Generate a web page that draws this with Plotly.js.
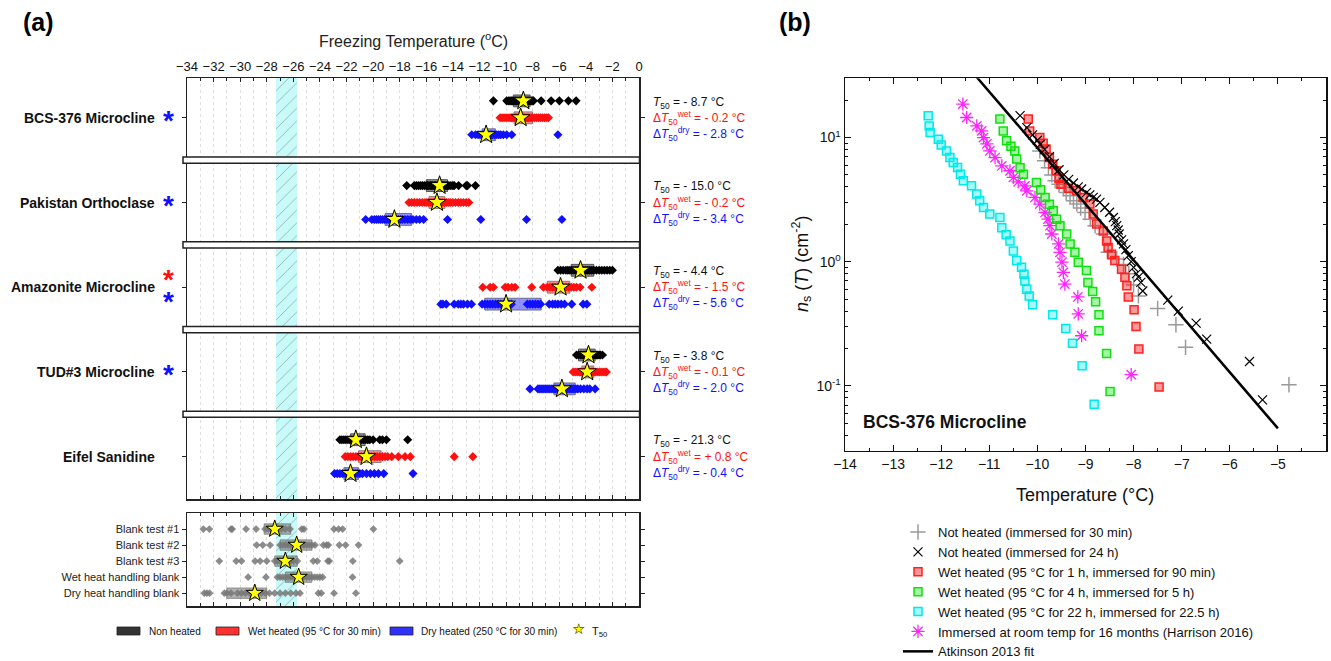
<!DOCTYPE html>
<html><head><meta charset="utf-8">
<script src="https://cdn.plot.ly/plotly-3.0.1.min.js"></script>
<style>html,body{margin:0;padding:0;background:#fff}#chart{width:1331px;height:661px}</style>
</head><body><div id="chart"></div>
<script>
// ================= Panel (a) data =================
const samples = ['BCS-376 Microcline','Pakistan Orthoclase','Amazonite Microcline','TUD#3 Microcline','Eifel Sanidine'];
const t50NonHeated = [-8.7, -15.0, -4.4, -3.8, -21.3];
const dT50Wet = [-0.2, -0.2, -1.5, -0.1, 0.8];
const dT50Dry = [-2.8, -3.4, -5.6, -2.0, -0.4];
const significantWet = [false, false, true, false, false];
const significantDry = [true, true, true, true, false];

const nonHeatedPts = [
  [-10.95,-9.95,-9.8,-9.7,-9.6,-9.5,-9.4,-9.3,-9.2,-9.1,-9.0,-8.9,-8.8,-8.7,-8.6,-8.5,-8.4,-8.3,-8.2,-8.1,-8.0,-7.94,-7.36,-6.61,-5.99,-5.31,-4.73],
  [-17.47,-16.9,-16.75,-16.6,-16.45,-16.3,-16.15,-16.0,-15.9,-15.8,-15.7,-15.6,-15.5,-15.4,-15.3,-15.2,-15.1,-15.0,-14.9,-14.8,-14.7,-14.6,-14.5,-14.4,-14.3,-14.15,-14.0,-13.9,-13.57,-13.0,-12.9,-12.3],
  [-6.1,-5.9,-5.7,-5.5,-5.35,-5.2,-5.05,-4.9,-4.75,-4.6,-4.45,-4.3,-4.15,-4.0,-3.85,-3.7,-3.55,-3.4,-3.2,-3.0,-2.8,-2.6,-2.4,-2.2,-2.0],
  [-4.7,-4.55,-4.4,-4.3,-4.2,-4.1,-4.0,-3.9,-3.8,-3.7,-3.6,-3.5,-3.4,-3.3,-3.2,-3.1,-3.0,-2.9,-2.75],
  [-22.5,-22.35,-22.2,-22.05,-21.9,-21.75,-21.6,-21.45,-21.3,-21.15,-21.0,-20.85,-20.7,-20.55,-20.4,-20.25,-20.0,-19.5,-19.3,-19.0,-17.4]
];
const wetHeatedPts = [
  [-10.45,-10.3,-10.15,-10.0,-9.85,-9.7,-9.6,-9.5,-9.4,-9.3,-9.2,-9.1,-9.0,-8.9,-8.8,-8.7,-8.6,-8.5,-8.4,-8.3,-8.2,-8.1,-8.0,-7.85,-7.7,-7.55,-7.4,-7.25,-7.1,-6.95,-6.81],
  [-17.3,-17.1,-16.9,-16.7,-16.5,-16.3,-16.1,-15.95,-15.8,-15.65,-15.5,-15.4,-15.3,-15.2,-15.1,-15.0,-14.9,-14.8,-14.65,-14.5,-14.35,-14.2,-14.0,-13.8,-13.6,-13.4,-13.2,-13.0,-12.8],
  [-11.75,-11.2,-10.95,-10.07,-9.85,-9.57,-9.32,-8.07,-7.19,-6.9,-6.69,-6.5,-6.3,-6.1,-5.9,-5.7,-5.5,-5.3,-5.1,-4.9,-4.7,-4.43,-3.55],
  [-4.95,-4.8,-4.65,-4.5,-4.4,-4.3,-4.2,-4.1,-4.0,-3.9,-3.8,-3.7,-3.6,-3.5,-3.4,-3.3,-3.15,-3.0,-2.85,-2.7,-2.55,-2.45],
  [-22.1,-21.9,-21.7,-21.5,-21.3,-21.1,-20.9,-20.7,-20.5,-20.3,-20.1,-19.9,-19.7,-19.5,-19.3,-19.1,-18.9,-18.6,-18.1,-17.6,-17.2,-13.9,-12.5]
];
const dryHeatedPts = [
  [-12.58,-12.3,-12.1,-11.95,-11.8,-11.7,-11.6,-11.5,-11.4,-11.3,-11.2,-11.1,-11.0,-10.85,-10.7,-10.55,-10.4,-10.2,-9.95,-9.57,-6.1],
  [-20.56,-20.1,-19.9,-19.75,-19.6,-19.45,-19.3,-19.15,-19.0,-18.85,-18.7,-18.55,-18.4,-18.25,-18.1,-17.95,-17.8,-17.6,-17.4,-17.2,-17.0,-16.75,-16.5,-16.2,-14.4,-11.9,-8.46,-5.8],
  [-14.9,-14.75,-14.5,-13.9,-13.6,-13.4,-13.2,-12.9,-12.6,-11.8,-11.6,-11.4,-11.2,-11.0,-10.8,-10.6,-10.4,-10.2,-10.0,-9.8,-9.6,-8.4,-8.2,-8.0,-7.8,-7.6,-7.4,-6.75,-6.5,-6.3,-6.1,-5.85,-5.6,-5.06,-4.2,-3.92],
  [-8.2,-7.6,-7.45,-7.3,-7.15,-7.0,-6.85,-6.7,-6.55,-6.4,-6.25,-6.1,-5.95,-5.8,-5.65,-5.5,-5.35,-5.2,-5.05,-4.9,-4.75,-4.6,-4.4,-4.15,-3.9,-3.7,-3.3],
  [-22.9,-22.7,-22.5,-22.3,-22.1,-21.95,-21.8,-21.65,-21.5,-21.35,-21.2,-21.0,-20.8,-20.5,-20.2,-19.9,-19.6,-19.2,-17.0]
];
const nonHeatedIQR = [[-9.45,-8.19],[-16.0,-14.4],[-5.1,-3.4],[-4.55,-3.3],[-21.7,-20.6]];
const wetHeatedIQR = [[-9.4,-8.0],[-15.8,-14.6],[-6.9,-5.2],[-4.3,-3.4],[-21.1,-19.4]];
const dryHeatedIQR = [[-11.8,-10.8],[-19.1,-17.1],[-11.6,-7.36],[-6.4,-4.8],[-22.2,-21.1]];

const blankTests = ['Blank test #1','Blank test #2','Blank test #3','Wet heat handling blank','Dry heat handling blank'];
const blankPts = [
  [-32.77,-32.32,-30.69,-30.6,-29.56,-28.8,-28.13,-27.9,-27.7,-27.5,-27.3,-27.1,-26.9,-26.6,-26.25,-25.37,-25.2,-22.94,-22.6,-22.29,-19.98],
  [-28.76,-28.3,-27.75,-27.0,-26.8,-26.6,-26.4,-26.2,-26.0,-25.8,-25.6,-25.4,-25.2,-25.0,-24.8,-24.6,-24.37,-23.74,-23.5,-23.37,-22.54,-22.07,-21.1],
  [-31.57,-30.3,-29.9,-28.88,-28.5,-28.0,-27.4,-27.2,-27.0,-26.8,-26.6,-26.4,-26.2,-26.0,-25.7,-24.5,-24.2,-23.4,-23.3,-21.53,-18.0],
  [-29.4,-28.06,-27.2,-27.0,-26.8,-26.6,-26.4,-26.2,-26.0,-25.8,-25.6,-25.4,-25.2,-25.0,-24.8,-24.6,-24.4,-24.2,-24.0,-23.8,-21.55],
  [-32.7,-32.5,-32.3,-31.19,-31.0,-30.69,-30.2,-29.9,-29.6,-29.3,-29.0,-28.7,-28.4,-28.1,-27.8,-27.4,-27.0,-26.6,-26.2,-25.8,-25.5,-24.12,-23.9,-22.94,-21.3]
];
const blankIQR = [[-28.2,-26.2],[-27.0,-24.6],[-27.4,-25.7],[-26.6,-24.6],[-31.0,-28.0]];
const blankT50 = [-27.4, -25.75, -26.6, -25.6, -28.9];
const blankBand = [-27.3, -25.7];

// ================= Panel (b) data =================
const notHeated30T  = [-9.95,-9.85,-9.77,-9.7,-9.63,-9.55,-9.46,-9.4,-9.32,-9.25,-9.18,-9.1,-9.01,-8.9,-8.8,-8.63,-8.53,-8.35,-8.21,-8.1,-8.0,-7.9,-7.5,-7.12,-6.92,-4.77];
const notHeated30Ns = [7.8,6.5,5.7,5.0,4.48,4.2,3.96,3.6,3.39,3.1,2.91,2.7,2.49,2.2,1.95,1.67,1.19,1.05,0.95,0.8,0.65,0.53,0.42,0.31,0.204,0.102];
const notHeated24T  = [-10.36,-10.22,-10.1,-10.0,-9.94,-9.85,-9.75,-9.65,-9.55,-9.45,-9.35,-9.25,-9.15,-9.08,-8.98,-8.91,-8.84,-8.77,-8.7,-8.6,-8.5,-8.42,-8.38,-8.35,-8.32,-8.3,-8.25,-8.21,-8.16,-8.11,-8.05,-8.0,-7.94,-7.9,-7.85,-7.81,-7.29,-7.07,-6.7,-6.48,-5.59,-5.32];
const notHeated24Ns = [15.0,12.0,10.5,9.5,8.8,8.0,7.0,6.2,5.5,5.0,4.6,4.3,4.0,3.85,3.6,3.45,3.3,3.19,3.0,2.73,2.5,2.27,2.1,1.95,1.8,1.67,1.5,1.39,1.25,1.12,1.0,0.9,0.8,0.75,0.68,0.58,0.49,0.40,0.32,0.238,0.157,0.077];
const wet1hT  = [-10.19,-10.16,-9.95,-9.88,-9.82,-9.75,-9.68,-9.61,-9.55,-9.51,-9.35,-9.19,-9.05,-8.91,-8.84,-8.77,-8.63,-8.56,-8.53,-8.46,-8.39,-8.25,-8.18,-8.14,-8.11,-7.99,-7.95,-7.89,-7.47];
const wet1hNs = [14.1,11.3,10.0,9.0,8.1,6.9,6.1,5.4,4.7,4.2,3.9,3.72,3.29,2.91,2.42,2.01,1.77,1.47,1.3,1.15,1.02,0.87,0.75,0.64,0.52,0.41,0.30,0.198,0.098];
const wet4hT  = [-10.78,-10.71,-10.64,-10.55,-10.47,-10.43,-10.36,-10.29,-10.02,-9.93,-9.84,-9.75,-9.67,-9.6,-9.53,-9.39,-9.32,-9.22,-9.15,-8.98,-8.95,-8.85,-8.79,-8.72,-8.72,-8.56,-8.49];
const wet4hNs = [14.1,11.3,9.4,8.5,7.8,6.7,5.7,5.07,4.35,3.8,3.29,2.9,2.57,2.2,1.95,1.67,1.39,1.19,0.99,0.85,0.68,0.575,0.475,0.373,0.278,0.182,0.09];
const wet22hT  = [-12.27,-12.25,-12.23,-12.06,-12.0,-11.89,-11.82,-11.75,-11.66,-11.6,-11.54,-11.37,-11.26,-11.2,-11.12,-10.99,-10.78,-10.74,-10.65,-10.57,-10.5,-10.43,-10.33,-10.28,-10.26,-10.22,-10.17,-10.1,-9.68,-9.41,-9.27,-9.07,-8.82];
const wet22hNs = [15.0,12.4,11.0,9.7,8.7,7.8,6.9,6.3,5.73,5.07,4.48,4.08,3.5,3.1,2.73,2.42,2.27,1.88,1.65,1.47,1.22,1.02,0.9,0.79,0.70,0.60,0.53,0.45,0.373,0.29,0.22,0.145,0.071];
const harrisonT  = [-11.55,-11.47,-11.26,-11.16,-11.12,-11.05,-10.99,-10.88,-10.74,-10.57,-10.5,-10.4,-10.26,-10.22,-10.05,-9.95,-9.84,-9.78,-9.74,-9.7,-9.56,-9.53,-9.49,-9.46,-9.43,-9.16,-9.15,-9.08,-8.05];
const harrisonNs = [18.6,14.5,12.4,11.3,10.0,8.9,7.8,6.9,5.9,5.4,4.77,4.4,4.08,3.72,3.29,2.91,2.49,2.2,1.95,1.67,1.39,1.19,0.99,0.82,0.66,0.52,0.38,0.253,0.123];
const atkinsonT  = [-11.26, -5.0];
const atkinsonNs = [30.6, 0.0454];

// ================= Helpers / styles =================
const W = 1331, H = 661;
const px = x => x / W, py = y => 1 - y / H;
const F = 'Liberation Sans, Arial, Helvetica, sans-serif';
const rowOffsets = [-0.2, 0, 0.2];
const mainYRange = [4.5, -0.47];
const blankYRange = [4.8, -1.0];
const ptColors = ['#000000', '#ff1010', '#1010ff'];
const boxFill = ['rgba(70,70,70,0.6)', 'rgba(255,70,70,0.6)', 'rgba(70,70,255,0.6)'];
const boxLine = ['rgba(60,60,60,0.8)', 'rgba(110,110,110,0.8)', 'rgba(90,90,110,0.8)'];

const traces = [];
function bandTrace(xa, ya, yr) {
  return {type:'bar', xaxis:xa, yaxis:ya, x:[(blankBand[0]+blankBand[1])/2], width:[blankBand[1]-blankBand[0]],
    base:[yr[1]], y:[yr[0]-yr[1]], showlegend:false, hoverinfo:'skip',
    marker:{color:'rgb(200,250,250)', line:{width:0},
      pattern:{shape:'/', fgcolor:'rgba(130,160,160,0.75)', bgcolor:'rgb(200,250,250)', size:9, solidity:0.1, fillmode:'replace'}}};
}
traces.push(bandTrace('x','y',mainYRange));
traces.push(bandTrace('x2','y2',blankYRange));

const ptsSets = [nonHeatedPts, wetHeatedPts, dryHeatedPts];
const iqrSets = [nonHeatedIQR, wetHeatedIQR, dryHeatedIQR];
const t50Sets = [
  t50NonHeated,
  t50NonHeated.map((v,i)=>v+dT50Wet[i]),
  t50NonHeated.map((v,i)=>v+dT50Dry[i])
];
ptsSets.forEach((set,k)=>{
  const xs=[], ys=[];
  set.forEach((arr,i)=>arr.forEach(v=>{xs.push(v); ys.push(i+rowOffsets[k]);}));
  traces.push({type:'scatter', mode:'markers', x:xs, y:ys, xaxis:'x', yaxis:'y', showlegend:false,
    marker:{symbol:'diamond', size:7, color:ptColors[k], line:{width:0}}});
});
iqrSets.forEach((set,k)=>{
  traces.push({type:'bar', orientation:'h', xaxis:'x', yaxis:'y', showlegend:false,
    y:set.map((b,i)=>i+rowOffsets[k]), base:set.map(b=>b[0]), x:set.map(b=>b[1]-b[0]), width:set.map(()=>0.14),
    marker:{color:boxFill[k], line:{color:boxLine[k], width:1}}});
});
{
  const xs=[], ys=[];
  t50Sets.forEach((set,k)=>set.forEach((v,i)=>{xs.push(v); ys.push(i+rowOffsets[k]);}));
  traces.push({type:'scatter', mode:'markers', x:xs, y:ys, xaxis:'x', yaxis:'y', showlegend:false,
    marker:{symbol:'star', size:14, color:'#ffff00', line:{color:'#000', width:1}}});
}
{
  const xs=[], ys=[];
  blankPts.forEach((arr,i)=>arr.forEach(v=>{xs.push(v); ys.push(i);}));
  traces.push({type:'scatter', mode:'markers', x:xs, y:ys, xaxis:'x2', yaxis:'y2', showlegend:false,
    marker:{symbol:'diamond', size:6, color:'rgba(120,120,120,0.85)', line:{width:0}}});
  traces.push({type:'bar', orientation:'h', xaxis:'x2', yaxis:'y2', showlegend:false,
    y:blankIQR.map((b,i)=>i), base:blankIQR.map(b=>b[0]), x:blankIQR.map(b=>b[1]-b[0]), width:blankIQR.map(()=>0.65),
    marker:{color:'rgba(100,100,100,0.5)', line:{color:'rgba(100,100,100,0.6)', width:1}}});
  traces.push({type:'scatter', mode:'markers', x:blankT50, y:blankT50.map((v,i)=>i), xaxis:'x2', yaxis:'y2', showlegend:false,
    marker:{symbol:'star', size:13, color:'#ffff00', line:{color:'#000', width:1}}});
}
// panel (b)
traces.push({type:'scatter', mode:'markers', name:'Not heated (immersed for 30 min)', x:notHeated30T, y:notHeated30Ns,
  xaxis:'x3', yaxis:'y3', legendrank:1, marker:{symbol:'cross-thin-open', size:11, color:'#9a9a9a', line:{color:'#9a9a9a', width:1.5}}});
traces.push({type:'scatter', mode:'markers', name:'Wet heated (95 °C for 22 h, immersed for 22.5 h)', x:wet22hT, y:wet22hNs,
  xaxis:'x3', yaxis:'y3', legendrank:5, marker:{symbol:'square', size:8, color:'rgba(0,240,240,0.35)', line:{color:'#00e8e8', width:1.5}}});
traces.push({type:'scatter', mode:'markers', name:'Immersed at room temp for 16 months (Harrison 2016)', x:harrisonT, y:harrisonNs,
  xaxis:'x3', yaxis:'y3', legendrank:6, marker:{symbol:'asterisk-open', size:11, color:'#ff22ff', line:{color:'#ff22ff', width:1.3}}});
traces.push({type:'scatter', mode:'markers', name:'Wet heated (95 °C for 4 h, immersed for 5 h)', x:wet4hT, y:wet4hNs,
  xaxis:'x3', yaxis:'y3', legendrank:4, marker:{symbol:'square', size:8, color:'rgba(0,230,0,0.35)', line:{color:'#10e010', width:1.5}}});
traces.push({type:'scatter', mode:'markers', name:'Wet heated (95 °C for 1 h, immersed for 90 min)', x:wet1hT, y:wet1hNs,
  xaxis:'x3', yaxis:'y3', legendrank:3, marker:{symbol:'square', size:8, color:'rgba(255,0,0,0.4)', line:{color:'#ff2020', width:1.5}}});
traces.push({type:'scatter', mode:'lines', name:'Atkinson 2013 fit', x:atkinsonT, y:atkinsonNs,
  xaxis:'x3', yaxis:'y3', legendrank:7, line:{color:'#000', width:2.5}});
traces.push({type:'scatter', mode:'markers', name:'Not heated (immersed for 24 h)', x:notHeated24T, y:notHeated24Ns,
  xaxis:'x3', yaxis:'y3', legendrank:2, marker:{symbol:'x-thin-open', size:9, color:'#000', line:{color:'#000', width:1.2}}});

// ================= Annotations & shapes =================
const ann = [];
const shapes = [];
function note(o) { return Object.assign({xref:'paper', yref:'paper', showarrow:false, xanchor:'center', yanchor:'middle'}, o); }
ann.push(note({x:px(38), y:py(22), text:'<b>(a)</b>', font:{size:25, family:F, color:'#000'}}));
ann.push(note({x:px(795), y:py(22), text:'<b>(b)</b>', font:{size:25, family:F, color:'#000'}}));
ann.push(note({x:px(413), y:py(40), text:'Freezing Temperature (<sup>o</sup>C)', font:{size:16, family:F, color:'#222'}}));
const fmt = v => (v < 0 ? '- ' : '+ ') + Math.abs(v).toFixed(1);
samples.forEach((s,i)=>{
  ann.push(note({yref:'y', x:px(157), y:i, xanchor:'right', text:'<b>'+s+'</b>', font:{size:14, family:F, color:'#111'}}));
  const stars = [];
  if (significantWet[i]) stars.push('#ff1010');
  if (significantDry[i]) stars.push('#1010ff');
  stars.forEach((c,j)=>{
    const shift = stars.length === 2 ? (j === 0 ? 8 : -14) : -3;
    ann.push(note({yref:'y', x:px(168), y:i, text:'<b>*</b>', yshift:shift, font:{size:28, family:F, color:c}}));
  });
  const lines = [
    ['<i>T</i><sub>50</sub> = '+fmt(t50NonHeated[i])+' °C', '#111', -0.18],
    ['Δ<i>T</i><sub>50</sub><sup>wet</sup> = '+fmt(dT50Wet[i])+' °C', '#ff1010', 0.0],
    ['Δ<i>T</i><sub>50</sub><sup>dry</sup> = '+fmt(dT50Dry[i])+' °C', '#1010ff', 0.19]
  ];
  lines.forEach(l=>ann.push(note({yref:'y', x:px(651), y:i+l[2], xanchor:'left', text:l[0], font:{size:12, family:F, color:l[1]}})));
});
[0.5,1.5,2.5,3.5].forEach(b=>shapes.push({type:'rect', xref:'paper', yref:'y', x0:px(183), x1:px(639.5), y0:b-0.036, y1:b+0.036,
  fillcolor:'#fff', line:{color:'#222', width:1.5}, layer:'above'}));
const legA = [['Non heated','#333333',117,147],['Wet heated (95 °C for 30 min)','#ff3030',216,246],['Dry heated (250 °C for 30 min)','#3030ff',390,419]];
legA.forEach(l=>{
  shapes.push({type:'rect', xref:'paper', yref:'paper', x0:px(l[2]), x1:px(l[2]+23), y0:py(635), y1:py(627), fillcolor:l[1], line:{color:'#222', width:0.8}});
  ann.push(note({x:px(l[3]), y:py(631), xanchor:'left', text:l[0], font:{size:10, family:F, color:'#111'}}));
});
ann.push(note({x:px(578), y:py(629), text:'★', font:{size:15, family:'DejaVu Sans', color:'#ffff00'}}));
ann.push(note({x:px(578), y:py(629), text:'☆', font:{size:15, family:'DejaVu Sans', color:'#000'}}));
ann.push(note({x:px(590), y:py(632), xanchor:'left', text:'T<sub>50</sub>', font:{size:11, family:F, color:'#111'}}));
ann.push(note({x:px(1085), y:py(495), text:'Temperature (°C)', font:{size:18, family:F, color:'#111'}}));
ann.push(note({x:px(801), y:py(264), text:'<i>n</i><sub>s</sub> (<i>T</i>) (cm<sup>-2</sup>)', textangle:-90, font:{size:18, family:F, color:'#111'}}));
ann.push(note({x:px(861), y:py(422), xanchor:'left', text:'<b>BCS-376 Microcline</b>', font:{size:17.5, family:F, color:'#111'}}));

// ================= Layout =================
const axA = {range:[-34,0], dtick:2, tick0:0, ticks:'inside', ticklen:4, tickwidth:1, tickcolor:'#222', showline:true, linecolor:'#222', linewidth:1.5,
  mirror:'allticks', showgrid:true, gridcolor:'#dedede', griddash:'3px,3px', gridwidth:1, zeroline:false, fixedrange:true,
  minor:{dtick:1, tick0:0, ticks:'inside', ticklen:3, tickcolor:'#222', showgrid:true, gridcolor:'#dedede', griddash:'3px,3px'}};
const minorLog = [0.03,0.04,0.05,0.06,0.07,0.08,0.09,0.2,0.3,0.4,0.5,0.6,0.7,0.8,0.9,2,3,4,5,6,7,8,9,20,30];
const layout = {
  width:W, height:H, margin:{l:0,r:0,t:0,b:0,autoexpand:false}, paper_bgcolor:'#fff', plot_bgcolor:'#fff',
  font:{family:F, size:13, color:'#111'}, barmode:'overlay', bargap:0, showlegend:true, hovermode:false,
  xaxis:Object.assign({}, axA, {domain:[px(187),px(639)], anchor:'y', side:'top', showticklabels:true, tickfont:{size:13, color:'#111'}}),
  yaxis:{domain:[py(499),py(78)], range:mainYRange, anchor:'x', tickvals:[0,1,2,3,4], showticklabels:false, ticks:'outside', ticklen:4,
    tickcolor:'#222', showline:true, linecolor:'#222', linewidth:1.5, mirror:'ticks', showgrid:false, zeroline:false, fixedrange:true},
  xaxis2:Object.assign({}, axA, {domain:[px(187),px(639)], anchor:'y2', showticklabels:false}),
  yaxis2:{domain:[py(606),py(513)], range:blankYRange, anchor:'x2', tickvals:[0,1,2,3,4], ticktext:blankTests, ticks:'outside', ticklen:4,
    tickcolor:'#222', tickfont:{size:11, color:'#222'}, showline:true, linecolor:'#222', linewidth:1.5, mirror:'ticks', showgrid:false, zeroline:false, fixedrange:true},
  xaxis3:{domain:[px(845),px(1326)], range:[-14,-4], anchor:'y3', dtick:1, tick0:0, ticks:'inside', ticklen:6, tickcolor:'#111',
    showline:true, linecolor:'#111', linewidth:1.5, mirror:'allticks', showgrid:false, zeroline:false, tickfont:{size:14, color:'#111'},
    minor:{dtick:0.5, tick0:0, ticks:'inside', ticklen:3, tickcolor:'#111'}},
  yaxis3:{domain:[py(450.7),py(78.3)], type:'log', range:[Math.log10(0.03), Math.log10(30)], anchor:'x3',
    tickmode:'array', tickvals:[0.1,1,10], ticktext:['10<sup>-1</sup>','10<sup>0</sup>','10<sup>1</sup>'], ticks:'inside', ticklen:6, tickcolor:'#111',
    showline:true, linecolor:'#111', linewidth:1.5, mirror:'allticks', showgrid:false, zeroline:false, tickfont:{size:14, color:'#111'},
    minor:{tickmode:'array', tickvals:minorLog, ticks:'inside', ticklen:3, tickcolor:'#111'}},
  legend:{x:px(898), y:py(517), xanchor:'left', yanchor:'top', font:{size:13, family:F, color:'#111'}, bgcolor:'rgba(0,0,0,0)', borderwidth:0,
    tracegroupgap:0, itemwidth:30, traceorder:'normal'},
  shapes:shapes, annotations:ann
};
Plotly.newPlot('chart', traces, layout, {displayModeBar:false, staticPlot:true});
</script></body></html>
